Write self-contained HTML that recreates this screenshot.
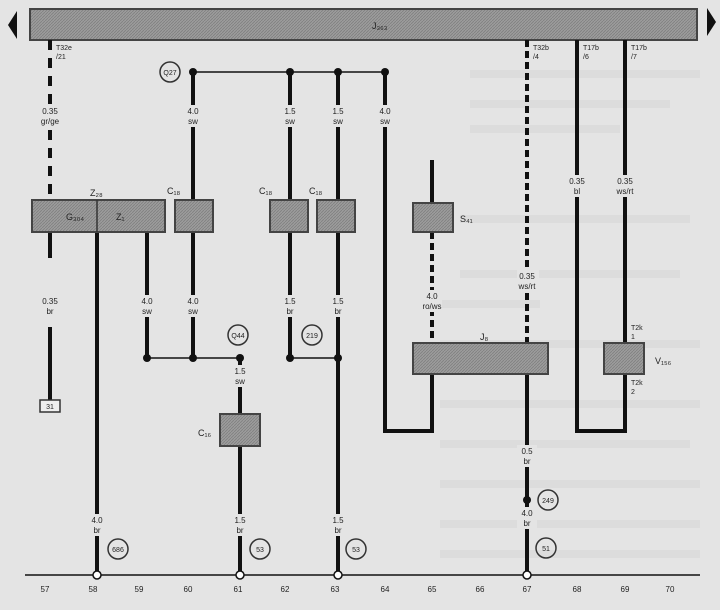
<!DOCTYPE html>
<html><head><style>
html,body{margin:0;padding:0;background:#e3e3e3;}
svg{display:block;}
text{font-family:"Liberation Sans",sans-serif;fill:#222;}
</style></head><body>
<svg width="720" height="610" viewBox="0 0 720 610" xmlns="http://www.w3.org/2000/svg">
<defs>
<pattern id="h" width="3" height="3" patternUnits="userSpaceOnUse"><rect width="3" height="3" fill="#9c9c9c"/><path d="M0 3L3 0" stroke="#808080" stroke-width="0.8"/></pattern>
</defs>
<rect width="720" height="610" fill="#e4e4e4"/>
<g fill="#dcdcdc">
<rect x="470" y="70" width="230" height="8"/><rect x="470" y="100" width="200" height="8"/><rect x="470" y="125" width="150" height="8"/>
<rect x="460" y="215" width="230" height="8"/><rect x="460" y="270" width="220" height="8"/><rect x="440" y="300" width="100" height="8"/>
<rect x="440" y="340" width="260" height="8"/><rect x="440" y="400" width="260" height="8"/><rect x="440" y="440" width="250" height="8"/>
<rect x="440" y="480" width="260" height="8"/><rect x="440" y="520" width="260" height="8"/><rect x="440" y="550" width="260" height="8"/>
</g>
<rect x="30" y="9" width="667" height="31" fill="url(#h)" stroke="#444" stroke-width="2"/>
<text x="372" y="29" font-size="9">J₃₆₃</text>
<polygon points="8,25 17,11 17,39" fill="#111"/>
<polygon points="716,22 707,8 707,36" fill="#111"/>

<g stroke="#111" fill="none" stroke-linecap="butt">
<line x1="50" y1="40" x2="50" y2="200" stroke-width="4" stroke-dasharray="10,8"/>
<line x1="50" y1="232" x2="50" y2="258" stroke-width="4"/>
<line x1="50" y1="327" x2="50" y2="400" stroke-width="4"/>
<line x1="97" y1="232" x2="97" y2="575" stroke-width="4"/>
<line x1="147" y1="232" x2="147" y2="358" stroke-width="4"/>
<line x1="193" y1="72" x2="193" y2="200" stroke-width="4"/>
<line x1="193" y1="232" x2="193" y2="358" stroke-width="4"/>
<line x1="290" y1="72" x2="290" y2="200" stroke-width="4"/>
<line x1="290" y1="232" x2="290" y2="358" stroke-width="4"/>
<line x1="338" y1="72" x2="338" y2="200" stroke-width="4"/>
<line x1="338" y1="232" x2="338" y2="575" stroke-width="4"/>
<polyline points="385,72 385,431 432,431 432,374" stroke-width="4"/>
<line x1="432" y1="160" x2="432" y2="203" stroke-width="4"/>
<line x1="432" y1="232" x2="432" y2="343" stroke-width="4" stroke-dasharray="7,4"/>
<line x1="527" y1="40" x2="527" y2="343" stroke-width="4" stroke-dasharray="7,4"/>
<line x1="527" y1="374" x2="527" y2="575" stroke-width="4"/>
<polyline points="577,40 577,431 625,431 625,374" stroke-width="4"/>
<line x1="625" y1="40" x2="625" y2="343" stroke-width="4"/>
<line x1="240" y1="358" x2="240" y2="415" stroke-width="4"/>
<line x1="240" y1="445" x2="240" y2="575" stroke-width="4"/>
<line x1="193" y1="72" x2="385" y2="72" stroke-width="1.5"/>
<line x1="147" y1="358" x2="240" y2="358" stroke-width="1.5"/>
<line x1="290" y1="358" x2="338" y2="358" stroke-width="1.5"/>
<line x1="25" y1="575" x2="700" y2="575" stroke-width="1.5"/>
</g>
<g fill="#e4e4e4">
<rect x="40" y="105" width="22" height="22"/><rect x="183" y="105" width="20" height="22"/><rect x="280" y="105" width="20" height="22"/><rect x="328" y="105" width="20" height="22"/><rect x="375" y="105" width="20" height="22"/>
<rect x="40" y="295" width="20" height="22"/><rect x="137" y="295" width="20" height="22"/><rect x="183" y="295" width="20" height="22"/><rect x="280" y="295" width="20" height="22"/><rect x="328" y="295" width="20" height="22"/>
<rect x="422" y="290" width="20" height="22"/><rect x="517" y="270" width="22" height="22"/><rect x="567" y="175" width="20" height="22"/><rect x="615" y="175" width="22" height="22"/>
<rect x="230" y="365" width="20" height="22"/><rect x="87" y="514" width="20" height="22"/><rect x="230" y="514" width="20" height="22"/><rect x="328" y="514" width="20" height="22"/>
<rect x="517" y="445" width="20" height="22"/><rect x="517" y="507" width="20" height="22"/>
</g>
<g font-size="8" text-anchor="middle">
<text x="50" y="114">0.35</text><text x="50" y="124">gr/ge</text>
<text x="193" y="114">4.0</text><text x="193" y="124">sw</text>
<text x="290" y="114">1.5</text><text x="290" y="124">sw</text>
<text x="338" y="114">1.5</text><text x="338" y="124">sw</text>
<text x="385" y="114">4.0</text><text x="385" y="124">sw</text>
<text x="50" y="304">0.35</text><text x="50" y="314">br</text>
<text x="147" y="304">4.0</text><text x="147" y="314">sw</text>
<text x="193" y="304">4.0</text><text x="193" y="314">sw</text>
<text x="290" y="304">1.5</text><text x="290" y="314">br</text>
<text x="338" y="304">1.5</text><text x="338" y="314">br</text>
<text x="432" y="299">4.0</text><text x="432" y="309">ro/ws</text>
<text x="527" y="279">0.35</text><text x="527" y="289">ws/rt</text>
<text x="577" y="184">0.35</text><text x="577" y="194">bl</text>
<text x="625" y="184">0.35</text><text x="625" y="194">ws/rt</text>
<text x="240" y="374">1.5</text><text x="240" y="384">sw</text>
<text x="97" y="523">4.0</text><text x="97" y="533">br</text>
<text x="240" y="523">1.5</text><text x="240" y="533">br</text>
<text x="338" y="523">1.5</text><text x="338" y="533">br</text>
<text x="527" y="454">0.5</text><text x="527" y="464">br</text>
<text x="527" y="516">4.0</text><text x="527" y="526">br</text>
</g>
<g font-size="7">
<text x="56" y="50">T32e</text><text x="56" y="59">/21</text>
<text x="533" y="50">T32b</text><text x="533" y="59">/4</text>
<text x="583" y="50">T17b</text><text x="583" y="59">/6</text>
<text x="631" y="50">T17b</text><text x="631" y="59">/7</text>
<text x="631" y="330">T2k</text><text x="631" y="339">1</text>
<text x="631" y="385">T2k</text><text x="631" y="394">2</text>
</g>
<g stroke="#444" stroke-width="2" fill="url(#h)">
<rect x="32" y="200" width="133" height="32"/>
<rect x="175" y="200" width="38" height="32"/>
<rect x="270" y="200" width="38" height="32"/>
<rect x="317" y="200" width="38" height="32"/>
<rect x="413" y="203" width="40" height="29"/>
<rect x="413" y="343" width="135" height="31"/>
<rect x="604" y="343" width="40" height="31"/>
<rect x="220" y="414" width="40" height="32"/>
</g>
<line x1="97" y1="200" x2="97" y2="232" stroke="#333" stroke-width="1.5"/>
<g font-size="9" fill="#222">
<text x="66" y="220">G₃₀₄</text><text x="116" y="220">Z₁</text>
<text x="90" y="196">Z₂₈</text>
<text x="167" y="194">C₁₈</text><text x="259" y="194">C₁₈</text><text x="309" y="194">C₁₈</text>
<text x="460" y="222">S₄₁</text><text x="480" y="340">J₈</text><text x="655" y="364">V₁₅₆</text>
<text x="198" y="436">C₁₆</text>
</g>
<g fill="#111">
<circle cx="193" cy="72" r="4"/><circle cx="290" cy="72" r="4"/><circle cx="338" cy="72" r="4"/><circle cx="385" cy="72" r="4"/>
<circle cx="147" cy="358" r="4"/><circle cx="193" cy="358" r="4"/><circle cx="240" cy="358" r="4"/>
<circle cx="290" cy="358" r="4"/><circle cx="338" cy="358" r="4"/><circle cx="527" cy="500" r="4"/>
</g>
<g fill="#fff" stroke="#111" stroke-width="1.5">
<circle cx="97" cy="575" r="4"/><circle cx="240" cy="575" r="4"/><circle cx="338" cy="575" r="4"/><circle cx="527" cy="575" r="4"/>
</g>
<g fill="none" stroke="#333" stroke-width="1.5">
<circle cx="170" cy="72" r="10"/><circle cx="238" cy="335" r="10"/><circle cx="312" cy="335" r="10"/>
<circle cx="118" cy="549" r="10"/><circle cx="260" cy="549" r="10"/><circle cx="356" cy="549" r="10"/>
<circle cx="548" cy="500" r="10"/><circle cx="546" cy="548" r="10"/>
</g>
<g font-size="7" text-anchor="middle">
<text x="170" y="75">Q27</text><text x="238" y="338">Q44</text><text x="312" y="338">219</text>
<text x="118" y="552">686</text><text x="260" y="552">53</text><text x="356" y="552">53</text>
<text x="548" y="503">249</text><text x="546" y="551">51</text>
</g>
<rect x="40" y="400" width="20" height="12" fill="#eee" stroke="#333" stroke-width="1.5"/>
<text x="50" y="409" font-size="7" text-anchor="middle">31</text>
<g font-size="8" text-anchor="middle">
<text x="45" y="592">57</text><text x="93" y="592">58</text><text x="139" y="592">59</text><text x="188" y="592">60</text>
<text x="238" y="592">61</text><text x="285" y="592">62</text><text x="335" y="592">63</text><text x="385" y="592">64</text>
<text x="432" y="592">65</text><text x="480" y="592">66</text><text x="527" y="592">67</text><text x="577" y="592">68</text>
<text x="625" y="592">69</text><text x="670" y="592">70</text>
</g>
</svg>
</body></html>
